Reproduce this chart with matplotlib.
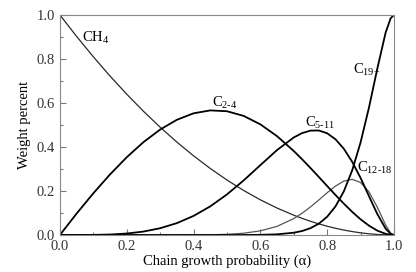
import matplotlib
import numpy as np

matplotlib.use("Agg")
import matplotlib.pyplot as plt  # noqa: E402
from matplotlib.ticker import MultipleLocator  # noqa: E402

plt.rcParams.update({"font.family": "serif", "font.serif": ["Liberation Serif"],
                     "mathtext.fontset": "custom", "mathtext.rm": "Liberation Serif",
                     "mathtext.it": "Liberation Serif:italic", "font.size": 9})

# chain growth probability
alpha = [0.0, 0.05, 0.1, 0.15, 0.2, 0.25, 0.3, 0.35, 0.4, 0.45, 0.5, 0.55, 0.6,
         0.65, 0.7, 0.725, 0.75, 0.775, 0.8, 0.825, 0.85, 0.875, 0.9, 0.925,
         0.95, 0.975, 0.99, 1.0]
ch4 = [1.0, 0.9025, 0.81, 0.7225, 0.64, 0.5625, 0.49, 0.4225, 0.36, 0.3025, 0.25,
       0.2025, 0.16, 0.1225, 0.09, 0.0756, 0.0625, 0.0506, 0.04, 0.0306, 0.0225,
       0.0156, 0.01, 0.0056, 0.0025, 0.0006, 0.0001, 0.0]
c2_4 = [0.0, 0.0975, 0.1895, 0.2753, 0.3533, 0.4219, 0.4792, 0.5235, 0.553, 0.5663,
        0.5625, 0.5413, 0.503, 0.4491, 0.3818, 0.3442, 0.3047, 0.264, 0.2227,
        0.1819, 0.1423, 0.1051, 0.0715, 0.0427, 0.0201, 0.0053, 0.0009, 0.0]
c5_11 = [0.0, 0.0, 0.0005, 0.0022, 0.0067, 0.0156, 0.0308, 0.0539, 0.0867, 0.1301,
         0.1843, 0.2479, 0.3174, 0.386, 0.4432, 0.4631, 0.4744, 0.4749, 0.4624,
         0.4351, 0.3918, 0.3326, 0.2595, 0.1776, 0.0958, 0.029, 0.0052, 0.0]
c12_18 = [0.0, 0.0, 0.0, 0.0, 0.0, 0.0, 0.0, 0.0001, 0.0003, 0.0011, 0.0031, 0.0081,
          0.0188, 0.0393, 0.0746, 0.0989, 0.1274, 0.1591, 0.192, 0.2224, 0.245,
          0.2529, 0.2387, 0.1966, 0.1269, 0.0458, 0.0091, 0.0]
c19p = [0.0, 0.0, 0.0, 0.0, 0.0, 0.0, 0.0, 0.0, 0.0, 0.0, 0.0, 0.0002, 0.0008,
        0.0031, 0.0104, 0.0182, 0.031, 0.0514, 0.0829, 0.1301, 0.1985, 0.2938,
        0.4203, 0.5776, 0.7547, 0.9193, 0.9847, 1.0]

fig = plt.figure(figsize=(4.16, 2.72), dpi=100)
ax = fig.add_axes([0.144, 0.136, 0.803, 0.809])

ax.plot(alpha, ch4, color="#2a2a2a", lw=0.9)
ax.plot(alpha, c12_18, color="#555555", lw=0.9)
ax.plot(alpha, c2_4, color="black", lw=1.3)
ax.plot(alpha, c5_11, color="black", lw=1.3)
ax.plot(alpha, c19p, color="black", lw=1.3)

lab = dict(fontsize=10.5, va="center", ha="left")
ax.text(0.065, 0.895, r"CH$_4$", **lab)
ax.text(0.455, 0.6, r"C$_{\text{2-4}}$", **lab)
ax.text(0.735, 0.51, r"C$_{\text{5-11}}$", **lab)
ax.text(0.878, 0.75, r"C$_{\text{19+}}$", **lab)
ax.text(0.888, 0.305, r"C$_{\text{12-18}}$", **lab)

ax.set_xlim(0, 1)
ax.set_ylim(0, 1)
ax.xaxis.set_major_locator(MultipleLocator(0.2))
ax.xaxis.set_minor_locator(MultipleLocator(0.1))
ax.yaxis.set_major_locator(MultipleLocator(0.2))
ax.yaxis.set_minor_locator(MultipleLocator(0.1))
ax.xaxis.set_major_formatter(lambda v, p: f"{v:.1f}")
ax.yaxis.set_major_formatter(lambda v, p: f"{v:.1f}")
ax.tick_params(which="both", direction="in", color="#777777", labelcolor="#333333",
               labelsize=10.5, width=0.8)
ax.tick_params(which="major", length=4)
ax.tick_params(which="minor", length=2)
for s in ax.spines.values():
    s.set_color("#888888")
    s.set_linewidth(0.8)
ax.set_xlabel("Chain growth probability (α)", fontsize=10.5, labelpad=1)
ax.set_ylabel("Weight percent", fontsize=10.5, labelpad=4)

fig.savefig("out.png", dpi=100)
